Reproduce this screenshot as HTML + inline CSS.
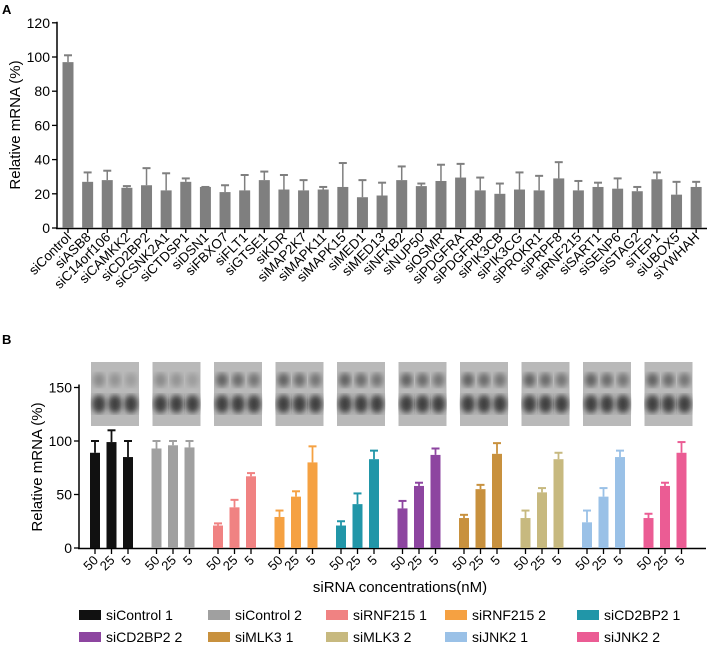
<!DOCTYPE html>
<html><head><meta charset="utf-8"><style>
html,body{margin:0;padding:0;background:#fff}
svg{display:block;font-family:"Liberation Sans",sans-serif}
</style></head><body>
<svg id="c" width="708" height="654" viewBox="0 0 708 654"></svg>
<script>
const catsA=["siControl","siASB8","siC14orf106","siCAMKK2","siCD2BP2","siCSNK2A1","siCTDSP1","siDSN1","siFBXO7","siFLT1","siGTSE1","siKDR","siMAP2K7","siMAPK11","siMAPK15","siMED1","siMED13","siNFKB2","siNUP50","siOSMR","siPDGFRA","siPDGFRB","siPIK3CB","siPIK3CG","siPROKR1","siPRPF8","siRNF215","siSART1","siSENP6","siSTAG2","siTEP1","siUBOX5","siYWHAH"];
const valsA=[97,27,28,23.5,25,22,27,24,21,22,28,22.5,22,22.5,24,18,19,28,24.5,27.5,29.5,22,20,22.5,22,29,22,24,23,21.5,28.5,19.5,24];
const errA=[4,5.5,5.5,1,10,10,2,0,4,9,5,8.5,6,1.5,14,10,7.5,8,1.5,9.5,8,7.5,6,10,8.5,9.5,5.5,2.5,6,2.5,4,7.5,3];
const ticksA=[0,20,40,60,80,100,120];
const seriesB=["siControl 1","siControl 2","siRNF215 1","siRNF215 2","siCD2BP2 1","siCD2BP2 2","siMLK3 1","siMLK3 2","siJNK2 1","siJNK2 2"];
const colorsB=["#111111","#a0a0a0","#f08282","#f5a142","#2196a8","#8d45a0","#c8913e","#c7b97f","#9ac1e7","#eb5c94"];
const concB=["50","25","5"];
const valsB=[[89,99,85],[93,96,94],[21,38,67],[29,48,80],[21,41,83],[37,58,87],[28,55,88],[28,52,83],[24,48,85],[28,58,89]];
const errB=[[11,11,15],[7,4,6],[2,7,3],[6,5,15],[4,10,8],[7,3,6],[3,4,10],[7,4,6],[11,8,6],[4,3,10]];
const ticksB=[0,50,100,150];

const svg=document.getElementById('c');const NS="http://www.w3.org/2000/svg";
function mk(t,a,p){const e=document.createElementNS(NS,t);for(const k in a)e.setAttribute(k,a[k]);(p||svg).appendChild(e);return e;}
// Panel A
const yA=v=>228-v*1.71, x0A=68, dxA=19.63, xA=i=>x0A+i*dxA;
let t=mk('text',{x:2,y:14,'font-size':13,'font-weight':'bold'});t.textContent='A';

let g=mk('g',{});
mk('line',{x1:57,y1:yA(120)-1,x2:57,y2:229,stroke:'#000','stroke-width':1.5},g);
mk('line',{x1:56,y1:228.5,x2:707,y2:228.5,stroke:'#000','stroke-width':1.5},g);
ticksA.forEach(v=>{mk('line',{x1:52,x2:57,y1:yA(v),y2:yA(v),stroke:'#000','stroke-width':1.3},g);
 const tt=mk('text',{x:50,y:yA(v)+5,'text-anchor':'end','font-size':14},g);tt.textContent=v;
 });
t=mk('text',{transform:'translate(20,125) rotate(-90)','text-anchor':'middle','font-size':15},g);t.textContent='Relative mRNA (%)';

catsA.forEach((c,i)=>{const cx=xA(i),w=11;
 const b=mk('rect',{x:cx-w/2,y:yA(valsA[i]),width:w,height:228-yA(valsA[i]),fill:'#7f7f7f'},g);
 
 const top=yA(valsA[i]+errA[i]);
 mk('line',{x1:cx,x2:cx,y1:yA(valsA[i]),y2:top,stroke:'#7f7f7f','stroke-width':1.5},g);
 mk('line',{x1:cx-4,x2:cx+4,y1:top,y2:top,stroke:'#7f7f7f','stroke-width':2},g);
 mk('line',{x1:cx,x2:cx,y1:229,y2:233,stroke:'#000','stroke-width':1.3},g);
 const l=mk('text',{transform:`translate(${cx+4},238) rotate(-45)`,'text-anchor':'end','font-size':13.5},g);l.textContent=c;
 });
// Panel B
const yB=v=>548-v*1.07, x0B=95, gB=61.5, dB=16.5, xB=(s,j)=>x0B+s*gB+j*dB;
t=mk('text',{x:2,y:344,'font-size':13,'font-weight':'bold'});t.textContent='B';

g=mk('g',{});
const defs=mk('defs',{},g);const f=mk('filter',{id:'bl'},defs);mk('feGaussianBlur',{stdDeviation:3},f);
mk('line',{x1:79,y1:yB(150)-3,x2:79,y2:549,stroke:'#000','stroke-width':1.5},g);
mk('line',{x1:78,y1:548.5,x2:706,y2:548.5,stroke:'#000','stroke-width':1.5},g);
ticksB.forEach(v=>{mk('line',{x1:74,x2:79,y1:yB(v),y2:yB(v),stroke:'#000','stroke-width':1.3},g);
 const tt=mk('text',{x:72,y:yB(v)+5,'text-anchor':'end','font-size':14},g);tt.textContent=v;
 });
t=mk('text',{transform:'translate(42,467) rotate(-90)','text-anchor':'middle','font-size':15},g);t.textContent='Relative mRNA (%)';

t=mk('text',{x:400,y:592,'text-anchor':'middle','font-size':15},g);t.textContent='siRNA concentrations(nM)';

seriesB.forEach((s,si)=>{
 const bx=xB(si,0)-4;
 const blot=mk('g',{},g);
 mk('rect',{x:bx,y:362,width:48,height:64,fill:'#b9b9b9'},blot);
 [0,1,2].forEach(j=>{const cx=bx+8+j*16;
  mk('ellipse',{cx:cx,cy:404,rx:7,ry:9,fill:'#2a2a2a',filter:'url(#bl)',opacity:0.85},blot);
  mk('ellipse',{cx:cx,cy:380,rx:6,ry:7,fill:'#444',filter:'url(#bl)',opacity:0.4*(1-j*0.2)+(si>=2?0.35:0)},blot);});
 concB.forEach((c,j)=>{const cx=xB(si,j),w=10,v=valsB[si][j];
  const b=mk('rect',{x:cx-w/2,y:yB(v),width:w,height:548-yB(v),fill:colorsB[si]},g);
  
  const top=yB(v+errB[si][j]);
  mk('line',{x1:cx,x2:cx,y1:yB(v),y2:top,stroke:colorsB[si],'stroke-width':1.8},g);
  mk('line',{x1:cx-4,x2:cx+4,y1:top,y2:top,stroke:colorsB[si],'stroke-width':2},g);
  mk('line',{x1:cx,x2:cx,y1:549,y2:554,stroke:'#000','stroke-width':1.3},g);
  const l=mk('text',{transform:`translate(${cx+4},561) rotate(-45)`,'text-anchor':'end','font-size':13},g);l.textContent=c;
  });
});
// Legend
const lg=mk('g',{});
const colX=[79,208,326,445,577];
seriesB.forEach((s,i)=>{const x=colX[i%5],y=i<5?616:638;
 const e=mk('g',{},lg);
 mk('rect',{x:x,y:y-6,width:22,height:10,fill:colorsB[i]},e);
 const tt=mk('text',{x:x+27,y:y+4,'font-size':14},e);tt.textContent=s;});
</script>
</body></html>
